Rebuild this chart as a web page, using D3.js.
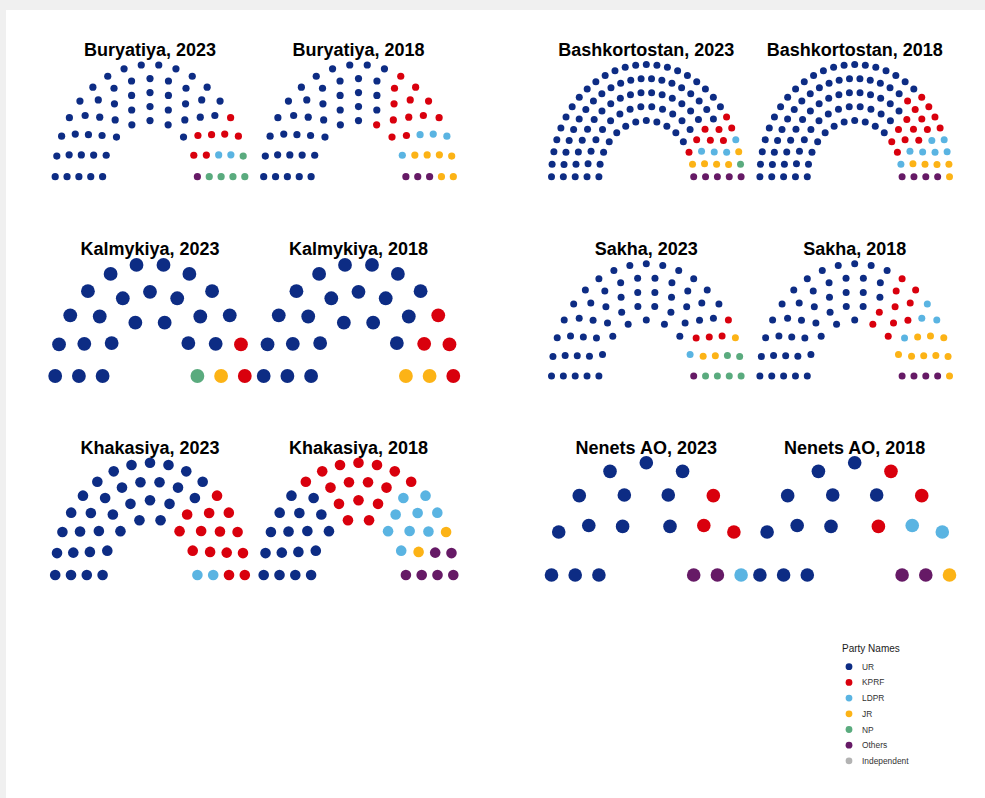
<!DOCTYPE html>
<html><head><meta charset="utf-8">
<script src="https://cdn.jsdelivr.net/npm/d3@7"></script>
<style>
html,body{margin:0;padding:0;background:#f0f0f0;}
svg{display:block;}
</style>
</head><body>
<svg id="chart" width="985" height="798"></svg>
<script>
// ---------- data ----------
const parties = ["UR", "KPRF", "LDPR", "JR", "NP", "Others", "Independent"];
const partyColors = ["#0d2c84", "#d9000d", "#5ab4e2", "#fcb316", "#5aab7e", "#661a66", "#b3b3b3"];

const regions = ["Buryatiya", "Bashkortostan", "Kalmykiya", "Sakha", "Khakasiya", "Nenets AO"];
const years = ["2023", "2018"];
const rowsByRegion = [5, 5, 3, 5, 4, 3];

// seats per party, in the order of `parties`
const seatsBuryatiya2023     = [51, 7, 2, 0, 5, 1, 0];
const seatsBuryatiya2018     = [40, 13, 4, 6, 0, 3, 0];
const seatsBashkortostan2023 = [87, 8, 4, 5, 1, 5, 0];
const seatsBashkortostan2018 = [79, 15, 7, 5, 0, 4, 0];
const seatsKalmykiya2023     = [23, 2, 0, 1, 1, 0, 0];
const seatsKalmykiya2018     = [21, 4, 0, 2, 0, 0, 0];
const seatsSakha2023         = [55, 4, 1, 3, 6, 1, 0];
const seatsSakha2018         = [43, 10, 4, 9, 0, 4, 0];
const seatsKhakasiya2023     = [34, 14, 2, 0, 0, 0, 0];
const seatsKhakasiya2018     = [17, 16, 9, 2, 0, 6, 0];
const seatsNenets2023        = [13, 3, 1, 0, 0, 2, 0];
const seatsNenets2018        = [11, 3, 2, 1, 0, 2, 0];

const seatsByRegion = [
  [seatsBuryatiya2023, seatsBuryatiya2018],
  [seatsBashkortostan2023, seatsBashkortostan2018],
  [seatsKalmykiya2023, seatsKalmykiya2018],
  [seatsSakha2023, seatsSakha2018],
  [seatsKhakasiya2023, seatsKhakasiya2018],
  [seatsNenets2023, seatsNenets2018]
];

// ---------- layout ----------
const svg = d3.select("#chart");
svg.append("rect").attr("x", 6).attr("y", 10).attr("width", 979).attr("height", 788).attr("fill", "#ffffff");

const colCenters = [150, 358.5, 646.3, 854.7];
const rowBaselines = [176.7, 376, 575];
const xUnit = 47.4, yUnit = 56.1;
const dotRadius = [3.6, 3.5, 6.9, 3.5, 5.3, 6.8];

function semicircle(seats, rows) {
  const total = d3.sum(seats);
  const radii = d3.range(rows).map(i => rows === 1 ? 2 : 1 + i / (rows - 1));
  const sumR = d3.sum(radii);
  const counts = radii.map(r => Math.round(total * r / sumR));
  counts[rows - 1] += total - d3.sum(counts);
  const pts = [];
  radii.forEach((r, i) => {
    const n = counts[i];
    for (let k = 0; k < n; k++) {
      const th = n === 1 ? Math.PI / 2 : k * (Math.PI / (n - 1));
      pts.push({x: r * Math.cos(th), y: r * Math.sin(th), row: i, theta: th});
    }
  });
  pts.sort((a, b) => (Math.abs(b.theta - a.theta) > 1e-9 ? b.theta - a.theta : b.row - a.row));
  let idx = 0;
  seats.forEach((s, p) => { for (let j = 0; j < s; j++) pts[idx++].party = p; });
  return pts;
}

const color = d3.scaleOrdinal().domain(parties).range(partyColors);

regions.forEach((reg, ri) => {
  const gridRow = Math.floor(ri / 2), gridCol = ri % 2;
  years.forEach((yr, yi) => {
    const cx = colCenters[gridCol * 2 + yi];
    const base = rowBaselines[gridRow];
    const x = d3.scaleLinear().domain([-2, 2]).range([cx - 2 * xUnit, cx + 2 * xUnit]);
    const y = d3.scaleLinear().domain([0, 2]).range([base, base - 2 * yUnit]);
    const pts = semicircle(seatsByRegion[ri][yi], rowsByRegion[ri]);
    const g = svg.append("g");
    g.append("text")
      .attr("x", cx).attr("y", base - 120.7)
      .attr("text-anchor", "middle")
      .attr("font-family", "Liberation Sans, Arial, sans-serif")
      .attr("font-weight", "bold")
      .attr("font-size", 18)
      .attr("fill", "#000")
      .text(reg + ", " + yr);
    g.selectAll("circle").data(pts).enter().append("circle")
      .attr("cx", d => x(d.x))
      .attr("cy", d => y(d.y))
      .attr("r", dotRadius[ri])
      .attr("fill", d => color(parties[d.party]));
  });
});

// ---------- legend ----------
const lg = svg.append("g");
lg.append("text").attr("x", 842).attr("y", 652)
  .attr("font-family", "Liberation Sans, Arial, sans-serif").attr("font-size", 10)
  .attr("fill", "#1a1a1a").text("Party Names");
const ly = d3.scaleLinear().domain([0, 1]).range([666.7, 682.4]);
parties.forEach((p, i) => {
  lg.append("circle").attr("cx", 849).attr("cy", ly(i)).attr("r", 3.4).attr("fill", color(p));
  lg.append("text").attr("x", 862).attr("y", ly(i) + 3)
    .attr("font-family", "Liberation Sans, Arial, sans-serif").attr("font-size", 8.4)
    .attr("fill", "#333").text(p);
});
</script>
</body></html>
